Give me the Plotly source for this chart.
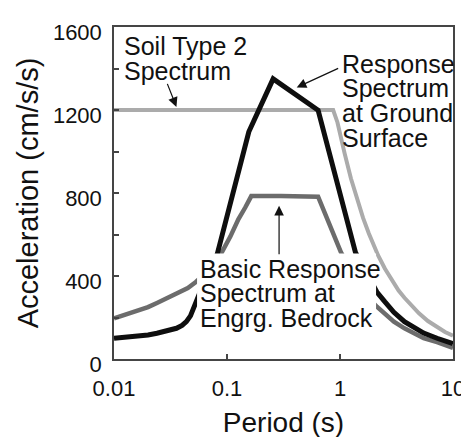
import math
import plotly.graph_objects as go

# ---- data ----
# Soil Type 2 design spectrum (light gray)
soil_period = [0.01, 0.1, 0.5, 0.87, 0.95, 1.0, 1.1, 1.25, 1.42, 1.6, 1.8, 2.0, 2.18, 2.5,
               2.9, 3.3, 3.72, 4.3, 5.0, 6.0, 7.23, 8.5, 10.0]
soil_accel = [1200, 1200, 1200, 1200, 1140, 1085, 990, 870, 769, 680, 605, 545, 498, 435,
              375, 330, 295, 255, 220, 183, 155, 130, 112]

# Basic response spectrum at engineering bedrock (dark gray)
bed_period = [0.01, 0.0125, 0.0161, 0.02, 0.024, 0.03, 0.037, 0.045, 0.053, 0.063, 0.075,
              0.09, 0.107, 0.126, 0.145, 0.164, 0.3, 0.5, 0.64, 1.02, 1.2, 1.4, 1.6, 1.8,
              2.12, 2.5, 3.0, 3.72, 4.5, 5.5, 7.23, 8.5, 10.0]
bed_accel = [196, 212, 231, 250, 270, 295, 318, 342, 371, 408, 455,
             514, 590, 673, 730, 785, 785, 785, 782, 514, 440, 375, 330, 292,
             252, 215, 180, 148, 122, 100, 81, 66, 53]

# Response spectrum at ground surface (black)
gnd_period = [0.01, 0.015, 0.02, 0.024, 0.03, 0.0357, 0.04, 0.0437, 0.0475, 0.0505, 0.053,
              0.06, 0.07, 0.082, 0.156, 0.256, 0.64, 1.37, 1.6, 1.85, 2.12, 2.5, 3.0,
              3.72, 4.5, 5.5, 7.23, 8.5, 10.0]
gnd_accel = [100, 108, 116, 124, 136, 148, 162, 180, 208, 244, 283,
             345, 425, 506, 1095, 1350, 1199, 514, 445, 385, 323, 275, 225,
             180, 150, 125, 100, 87, 74]

# axis ticks
y_tickvals = [0, 200, 400, 600, 800, 1000, 1200, 1400, 1600]
y_ticktext = ["0", "", "400", "", "800", "", "1200", "", "1600"]
x_tickvals = [0.01, 0.1, 1, 10]
x_ticktext = ["0.01", "0.1", "1", "10"]

FONT = "Arial, 'Liberation Sans', Helvetica, sans-serif"

fig = go.Figure()
fig.add_trace(go.Scatter(x=soil_period, y=soil_accel, mode="lines",
                         line=dict(color="#ababab", width=4), name="Soil Type 2 Spectrum"))
fig.add_trace(go.Scatter(x=bed_period, y=bed_accel, mode="lines",
                         line=dict(color="#6c6c6c", width=4.5), name="Basic Response Spectrum"))
fig.add_trace(go.Scatter(x=gnd_period, y=gnd_accel, mode="lines",
                         line=dict(color="#0e0e0e", width=5), name="Ground Surface"))

# white box behind the bedrock label
fig.add_shape(type="rect", xref="paper", yref="paper", x0=0.245, x1=0.773, y0=0.085, y1=0.318,
              fillcolor="white", line=dict(width=0), layer="above")

def label_lines(lines, x, y_top, step=0.0746, size=25):
    for i, t in enumerate(lines):
        fig.add_annotation(text=t, xref="paper", yref="paper", x=x, y=y_top - i * step,
                           xanchor="left", yanchor="middle", showarrow=False,
                           font=dict(family=FONT, size=size, color="#111"))

label_lines(["Soil Type 2", "Spectrum"], 0.024, 0.943)
label_lines(["Response", "Spectrum", "at Ground", "Surface"], 0.668, 0.890)
label_lines(["Basic Response", "Spectrum at", "Engrg. Bedrock"], 0.248, 0.272)

def arrow(tail_T, tail_A, head_T, head_A):
    fig.add_annotation(x=math.log10(head_T), y=head_A, ax=math.log10(tail_T), ay=tail_A,
                       xref="x", yref="y", axref="x", ayref="y", text="",
                       showarrow=True, arrowhead=2, arrowsize=1.6, arrowwidth=1.2,
                       arrowcolor="#111", standoff=0)

arrow(0.0293, 1333, 0.0357, 1215)
arrow(0.993, 1404, 0.414, 1309)
arrow(0.289, 497, 0.289, 738)

axis_common = dict(showline=True, linecolor="#454545", linewidth=1.5, mirror=True,
                   ticks="inside", ticklen=5, tickcolor="#454545", tickwidth=1.5,
                   showgrid=False, zeroline=False, ticklabeloverflow="allow",
                   tickfont=dict(family=FONT, size=22, color="#111"))

fig.update_xaxes(type="log", range=[-2, 1], tickvals=x_tickvals, ticktext=x_ticktext,
                 ticklabelstandoff=9,
                 title=dict(text="Period (s)", font=dict(family=FONT, size=28, color="#111"),
                            standoff=12),
                 **axis_common)
fig.update_yaxes(range=[0, 1600], tickvals=y_tickvals, ticktext=y_ticktext,
                 ticklabelshift=5, ticklabelstandoff=6,
                 title=dict(text="Acceleration (cm/s/s)",
                            font=dict(family=FONT, size=29, color="#111"), standoff=6),
                 **axis_common)

fig.update_layout(width=469, height=437, margin=dict(l=106, r=16, t=16, b=86),
                  plot_bgcolor="white", paper_bgcolor="white", showlegend=False,
                  font=dict(family=FONT))

fig.write_html("out.html")
